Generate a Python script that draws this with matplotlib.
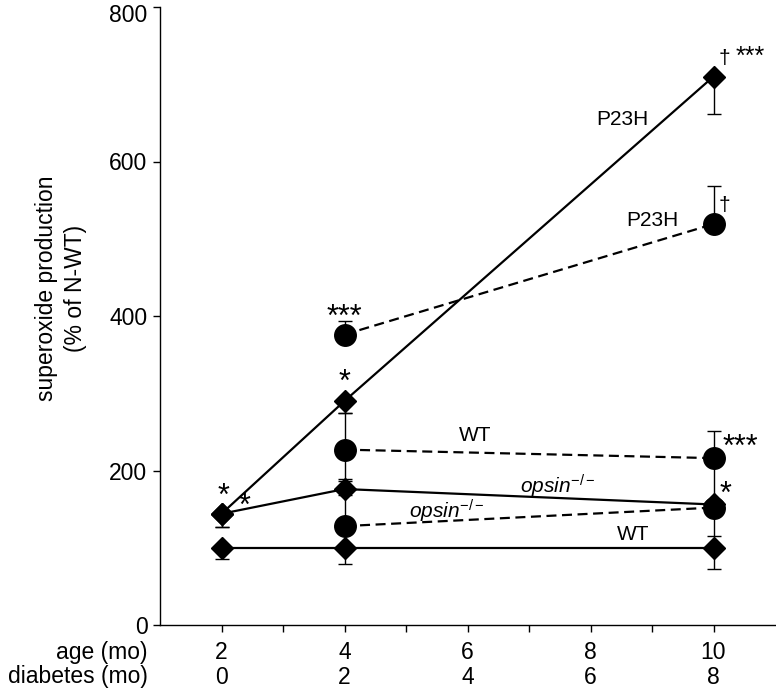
import numpy as np
import matplotlib
matplotlib.use("Agg")
import matplotlib.pyplot as plt
from matplotlib.transforms import blended_transform_factory, ScaledTranslation

plt.rcParams["font.family"] = ["Liberation Sans", "DejaVu Sans"]
plt.rcParams["mathtext.fontset"] = "custom"
plt.rcParams["mathtext.it"] = "Liberation Sans:italic"
plt.rcParams["mathtext.rm"] = "Liberation Sans"

# x positions (age, months)
x_all = [2, 4, 10]
x_late = [4, 10]

# solid lines / diamonds
wt_solid = [100, 100, 100]
wt_solid_lo = [15, 21, 28]
wt_solid_hi = [0, 0, 0]

opsin_solid = [144, 176, 156]
opsin_solid_lo = [17, 0, 0]
opsin_solid_hi = [0, 13, 60]

p23h_solid = [144, 290, 710]
p23h_solid_lo = [17, 15, 48]
p23h_solid_hi = [0, 0, 0]

# dashed lines / circles
wt_dash = [227, 216]
wt_dash_lo = [40, 0]
wt_dash_hi = [48, 35]

opsin_dash = [128, 152]
opsin_dash_lo = [0, 37]
opsin_dash_hi = [40, 0]

p23h_dash = [376, 519]
p23h_dash_lo = [0, 0]
p23h_dash_hi = [18, 49]

age_ticks = [2, 4, 6, 8, 10]
diabetes_labels = [0, 2, 4, 6, 8]

FS = 16.5

fig = plt.figure(figsize=(7.76, 6.92), dpi=100)
ax = fig.add_axes([160 / 776, 67 / 692, 615 / 776, 618 / 692])

series = [
    (x_all, wt_solid, wt_solid_lo, wt_solid_hi, "D", "-"),
    (x_all, opsin_solid, opsin_solid_lo, opsin_solid_hi, "D", "-"),
    (x_all, p23h_solid, p23h_solid_lo, p23h_solid_hi, "D", "-"),
    (x_late, wt_dash, wt_dash_lo, wt_dash_hi, "o", "--"),
    (x_late, opsin_dash, opsin_dash_lo, opsin_dash_hi, "o", "--"),
    (x_late, p23h_dash, p23h_dash_lo, p23h_dash_hi, "o", "--"),
]

for xs, ys, lo, hi, mk, ls in series:
    ax.errorbar(xs, ys, yerr=[lo, hi], fmt="none", ecolor="black",
                elinewidth=1.0, capsize=5, capthick=1.0, zorder=2)
for xs, ys, lo, hi, mk, ls in series:
    ms = 11.5 if mk == "D" else 15.5
    line, = ax.plot(xs, ys, color="black", lw=1.6, marker=mk, ms=ms,
                    markerfacecolor="black", markeredgecolor="black", zorder=3)
    if ls == "--":
        line.set_dashes((4.5, 2.5))

ax.set_xlim(1, 11)
ax.set_ylim(0, 800)
ax.set_xticks(range(2, 11))
ax.set_xticklabels([])
ax.set_yticks([0, 200, 400, 600, 800])
ax.tick_params(axis="both", direction="out", length=5, width=1, labelsize=FS, pad=4)
for side in ["top", "right"]:
    ax.spines[side].set_visible(False)
for side in ["left", "bottom"]:
    ax.spines[side].set_linewidth(1.0)

# keep the top label inside the figure
fig.canvas.draw()
top_lab = ax.get_yticklabels()[-1]
top_lab.set_transform(top_lab.get_transform() + ScaledTranslation(0, -4 / 72, fig.dpi_scale_trans))

# two-row x labels
tr = blended_transform_factory(ax.transData, ax.transAxes)
for a, d in zip(age_ticks, diabetes_labels):
    ax.text(a, -0.0437, str(a), transform=tr, ha="center", va="center", fontsize=FS)
    ax.text(a, -0.0842, str(d), transform=tr, ha="center", va="center", fontsize=FS)
fig.text(148 / 776, 1 - 652 / 692, "age (mo)", ha="right", va="center", fontsize=FS)
fig.text(148 / 776, 1 - 677 / 692, "diabetes (mo)", ha="right", va="center", fontsize=FS)

fig.text(61 / 776, 1 - 288 / 692, "superoxide production\n(% of N-WT)", rotation=90,
         ha="center", va="center", multialignment="center", fontsize=FS, linespacing=1.3)

# line labels
lab_kw = dict(ha="center", va="center", fontsize=15)
ax.text(8.52, 654, "P23H", **lab_kw)
ax.text(9.0, 524, "P23H", **lab_kw)
ax.text(6.13, 245, "WT", **lab_kw)
ax.text(8.7, 117, "WT", **lab_kw)
ax.text(7.47, 180, r"$opsin^{-/-}$", **lab_kw)
ax.text(5.67, 147, r"$opsin^{-/-}$", **lab_kw)

# significance marks
star_kw = dict(ha="center", va="center", fontsize=22)
ax.text(2.04, 166, "*", **star_kw)
ax.text(2.37, 153, "*", **star_kw)
ax.text(4.0, 313, "*", **star_kw)
ax.text(4.0, 398, "***", **star_kw)
ax.text(10.44, 229, "***", **star_kw)
ax.text(10.2, 168, "*", **star_kw)
ax.text(10.6, 736, "***", ha="center", va="center", fontsize=18)
ax.text(10.18, 733, "\u2020", ha="center", va="center", fontsize=15)
ax.text(10.17, 543, "\u2020", ha="center", va="center", fontsize=15)

fig.savefig("out.png", dpi=100)
